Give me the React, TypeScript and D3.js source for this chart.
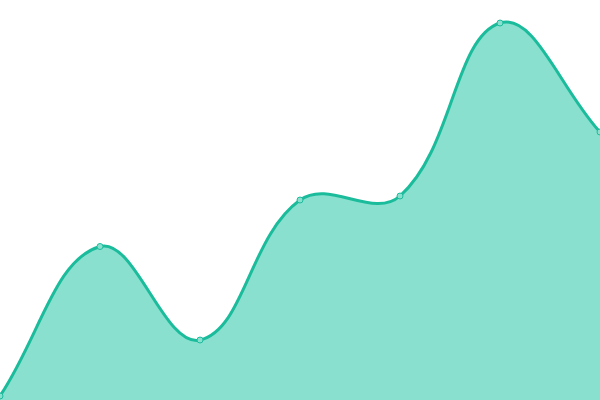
import React from 'react';
import * as d3 from 'd3';

const labels = ['A', 'B', 'C', 'D', 'E', 'F', 'G'];
const values = [4, 153.5, 60, 200, 204, 377, 268];

const W = 600;
const H = 400;
const tension = 0.4;

// bezier spline with distance-weighted control points
function splinePath(pts: [number, number][], close: boolean) {
  const p = d3.path();
  const n = pts.length;
  const ctrl = pts.map((cur, i) => {
    const prev = pts[Math.max(0, i - 1)];
    const next = pts[Math.min(n - 1, i + 1)];
    const d01 = Math.hypot(cur[0] - prev[0], cur[1] - prev[1]);
    const d12 = Math.hypot(next[0] - cur[0], next[1] - cur[1]);
    let s01 = d01 / (d01 + d12);
    let s12 = d12 / (d01 + d12);
    if (isNaN(s01)) s01 = 0;
    if (isNaN(s12)) s12 = 0;
    const fa = tension * s01;
    const fb = tension * s12;
    const cap = (v: [number, number]): [number, number] => [
      Math.max(0, Math.min(W, v[0])),
      Math.max(0, Math.min(H, v[1])),
    ];
    return {
      prev: cap([cur[0] - fa * (next[0] - prev[0]), cur[1] - fa * (next[1] - prev[1])]),
      next: cap([cur[0] + fb * (next[0] - prev[0]), cur[1] + fb * (next[1] - prev[1])]),
    };
  });
  p.moveTo(pts[0][0], pts[0][1]);
  for (let i = 1; i < n; i++) {
    const a = ctrl[i - 1].next;
    const b = ctrl[i].prev;
    p.bezierCurveTo(a[0], a[1], b[0], b[1], pts[i][0], pts[i][1]);
  }
  if (close) {
    p.lineTo(pts[n - 1][0], H);
    p.lineTo(pts[0][0], H);
    p.closePath();
  }
  return p.toString();
}

const App: React.FC = () => {
  const x = d3.scalePoint<string>().domain(labels).range([0, W]);
  const y = d3.scaleLinear().domain([0, 400]).range([H, 0]);

  const pts: [number, number][] = labels.map((l, i) => [x(l)!, y(values[i])]);

  return (
    <svg width={W} height={H} style={{ position: 'fixed', top: 0, left: 0, display: 'block' }}>
      <path d={splinePath(pts, true)} fill="#89e0cf" />
      <path d={splinePath(pts, false)} fill="none" stroke="#1abc9c" strokeWidth={3} />
      {pts.map((p, i) => (
        <circle key={i} cx={p[0]} cy={p[1]} r={3} fill="#8ae0cf" stroke="#1abc9c" strokeWidth={1} />
      ))}
    </svg>
  );
};

export default App;
